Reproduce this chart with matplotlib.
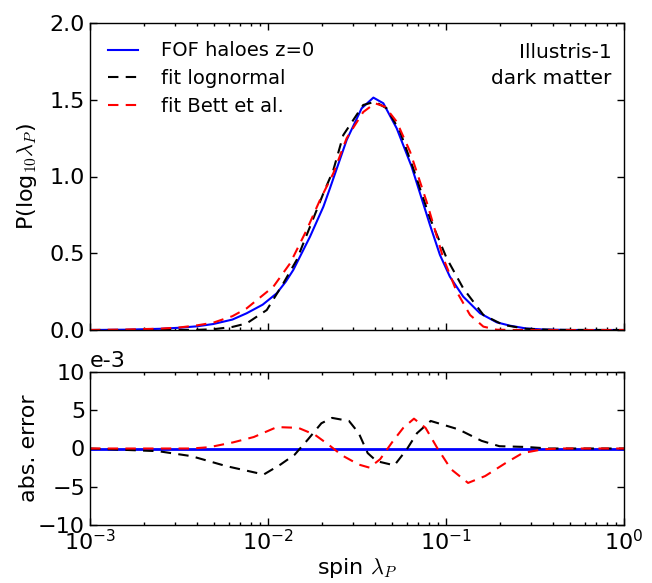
import numpy as np
import matplotlib
matplotlib.use("Agg")
import matplotlib.pyplot as plt
from matplotlib.ticker import FixedLocator, FixedFormatter, LogLocator, NullFormatter

plt.rcParams['font.family'] = ['DejaVu Sans']
plt.rcParams['mathtext.fontset'] = 'cm'

# ---- data (log10 of spin) ----
blue_log = [-3.0, -2.8, -2.6, -2.494, -2.4, -2.307, -2.2, -2.12, -2.03, -1.951, -1.9,
            -1.858, -1.764, -1.689, -1.652, -1.558, -1.474, -1.408, -1.352, -1.277,
            -1.193, -1.090, -1.034, -0.978, -0.903, -0.809, -0.715, -0.64, -0.55,
            -0.45, -0.3, 0.0]
blue_P = [0.0, 0.002, 0.008, 0.015, 0.024, 0.039, 0.068, 0.109, 0.165, 0.239, 0.315,
          0.391, 0.608, 0.803, 0.923, 1.238, 1.444, 1.514, 1.477, 1.314,
          1.064, 0.684, 0.489, 0.347, 0.217, 0.109, 0.050, 0.028, 0.010,
          0.003, 0.0, 0.0]

black_log = [-3.0, -2.6, -2.4, -2.307, -2.2, -2.12, -2.007, -1.914, -1.839, -1.764,
             -1.689, -1.633, -1.577, -1.465, -1.399, -1.333, -1.258, -1.184, -1.090,
             -0.996, -0.903, -0.79, -0.678, -0.55, -0.4, 0.0]
black_P = [0.0, 0.0, 0.001, 0.005, 0.02, 0.043, 0.130, 0.304, 0.456, 0.673,
           0.890, 1.042, 1.27, 1.466, 1.487, 1.444, 1.292, 1.053, 0.728,
           0.467, 0.271, 0.098, 0.033, 0.008, 0.001, 0.0]

red_log = [-3.0, -2.8, -2.6, -2.494, -2.4, -2.307, -2.2, -2.12, -1.97, -1.876, -1.783,
           -1.708, -1.633, -1.558, -1.465, -1.399, -1.343, -1.277, -1.202, -1.109,
           -1.015, -0.94, -0.865, -0.79, -0.715, -0.6, 0.0]
red_P = [0.0, 0.003, 0.009, 0.017, 0.03, 0.048, 0.09, 0.141, 0.282, 0.434, 0.651,
         0.847, 1.021, 1.25, 1.42, 1.477, 1.455, 1.357, 1.162, 0.836,
         0.467, 0.25, 0.098, 0.022, 0.002, 0.0, 0.0]

# residuals (units of 1e-3)
black_err_log = [-3.0, -2.617, -2.43, -2.235, -2.024, -1.93, -1.85, -1.775, -1.70, -1.64,
                 -1.545, -1.49, -1.44, -1.39, -1.29, -1.22, -1.163, -1.086, -0.93,
                 -0.80, -0.70, -0.55, -0.42, 0.0]
black_err = [0.0, -0.35, -1.0, -2.3, -3.4, -2.1, -0.8, 1.2, 3.3, 4.0,
             3.6, 2.0, -0.6, -1.65, -2.2, -0.1, 2.0, 3.6, 2.5,
             1.0, 0.3, 0.2, 0.0, 0.0]
red_err_log = [-3.0, -2.43, -2.33, -2.196, -2.08, -1.95, -1.83, -1.737, -1.66, -1.584,
               -1.49, -1.43, -1.37, -1.297, -1.24, -1.18, -1.115, -1.05, -0.972,
               -0.876, -0.78, -0.665, -0.57, -0.455, -0.35, 0.0]
red_err = [0.0, 0.0, 0.17, 0.8, 1.5, 2.8, 2.7, 1.8, 0.5, -0.9,
           -2.1, -2.5, -1.4, 1.0, 2.7, 3.9, 2.7, 0.1, -2.7,
           -4.5, -3.6, -1.9, -0.6, -0.1, 0.0, 0.0]
zero_err_log = [-3.0, 0.0]
zero_err = [0.0, 0.0]

xticks = [1e-3, 1e-2, 1e-1, 1e0]
xticklabels = [r'$\mathregular{10^{-3}}$', r'$\mathregular{10^{-2}}$',
               r'$\mathregular{10^{-1}}$', r'$\mathregular{10^{0}}$']
top_yticks = [0.0, 0.5, 1.0, 1.5, 2.0]
bot_yticks = [-10, -5, 0, 5, 10]

W, H = 652, 583
fig = plt.figure(figsize=(W / 100, H / 100), dpi=100)
ax1 = fig.add_axes([90 / W, 1 - 330 / H, 534 / W, 307 / H])
ax2 = fig.add_axes([90 / W, 1 - 525 / H, 534 / W, 153 / H])

lw = 1.5
dash = (0, (5, 3.5))
ax1.plot(10 ** np.array(blue_log), blue_P, color='#0000ff', lw=lw, label='FOF haloes z=0')
ax1.plot(10 ** np.array(black_log), black_P, color='black', lw=lw, linestyle=dash, label='fit lognormal')
ax1.plot(10 ** np.array(red_log), red_P, color='red', lw=lw, linestyle=dash, label='fit Bett et al.')

ax2.plot(10 ** np.array(zero_err_log), zero_err, color='#0000ff', lw=2)
ax2.plot(10 ** np.array(black_err_log), black_err, color='black', lw=lw, linestyle=dash)
ax2.plot(10 ** np.array(red_err_log), red_err, color='red', lw=lw, linestyle=dash)

for ax in (ax1, ax2):
    ax.set_xscale('log')
    ax.set_xlim(1e-3, 1)
    ax.xaxis.set_major_locator(FixedLocator(xticks))
    ax.xaxis.set_minor_locator(LogLocator(base=10, subs=np.arange(2, 10), numticks=20))
    ax.xaxis.set_minor_formatter(NullFormatter())
    ax.tick_params(which='both', direction='in', top=True, right=True, labelsize=16)
    ax.tick_params(which='major', length=5, width=1)
    ax.tick_params(which='minor', length=2.5, width=1)
    for s in ax.spines.values():
        s.set_linewidth(1)

ax1.set_ylim(0, 2)
ax1.set_yticks(top_yticks)
ax1.set_yticklabels(['%.1f' % v for v in top_yticks])
ax1.xaxis.set_major_formatter(NullFormatter())
ax1.set_ylabel(r'P(log$_{10}\lambda_P$)', fontsize=16)
ax1.yaxis.set_label_coords(-0.095, 0.5)

ax2.set_ylim(-10, 10)
ax2.set_yticks(bot_yticks)
ax2.xaxis.set_major_formatter(FixedFormatter(xticklabels))
ax2.tick_params(axis='x', which='major', pad=3)
ax2.set_ylabel('abs. error', fontsize=16)
ax2.yaxis.set_label_coords(-0.095, 0.5)
ax2.set_xlabel(r'spin $\lambda_P$', fontsize=16, labelpad=1)
ax2.text(0.0, 1.005, 'e-3', transform=ax2.transAxes, fontsize=16, ha='left', va='bottom')

leg = ax1.legend(loc='upper left', frameon=False, fontsize=14, handlelength=1.5,
                 handletextpad=1.2, borderaxespad=0.55, labelspacing=0.45)
ax1.text(0.977, 0.935, 'Illustris-1\ndark matter', transform=ax1.transAxes,
         fontsize=14.5, ha='right', va='top', linespacing=1.5)

fig.savefig('out.png', dpi=100)
